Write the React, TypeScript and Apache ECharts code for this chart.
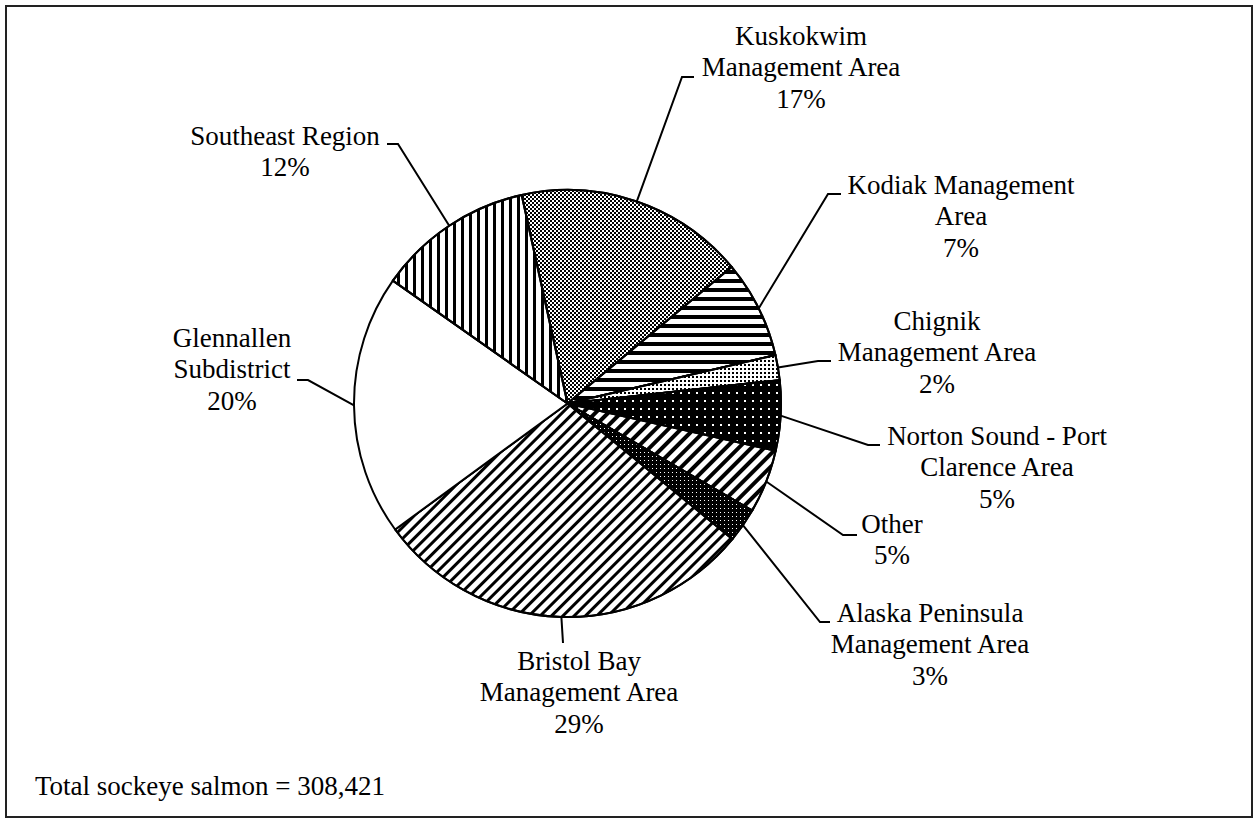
import React, { useEffect, useRef } from "react";
import * as echarts from "echarts";

// ---- data ----
const categories = [
  "Kuskokwim Management Area",
  "Kodiak Management Area",
  "Chignik Management Area",
  "Norton Sound - Port Clarence Area",
  "Other",
  "Alaska Peninsula Management Area",
  "Bristol Bay Management Area",
  "Glennallen Subdistrict",
  "Southeast Region",
];
const labelText = [
  "Kuskokwim\nManagement Area",
  "Kodiak Management\nArea",
  "Chignik\nManagement Area",
  "Norton Sound - Port\nClarence Area",
  "Other",
  "Alaska Peninsula\nManagement Area",
  "Bristol Bay\nManagement Area",
  "Glennallen\nSubdistrict",
  "Southeast Region",
];
const values = [53665, 22823, 5860, 16346, 14804, 8019, 89442, 61067, 36395];
const totalPrefix = "Total sockeye salmon = ";

// ---- layout (label block centre / top, leader elbow and end) ----
const labelLayoutPos = [
  { cx: 801, top: 20, ex: 682, ey: 77, hx: 694 },
  { cx: 961, top: 169, ex: 828, ey: 194, hx: 841 },
  { cx: 937, top: 305, ex: 818, ey: 361, hx: 831 },
  { cx: 997, top: 420, ex: 868, ey: 445, hx: 880 },
  { cx: 892, top: 508, ex: 843, ey: 535, hx: 857 },
  { cx: 930, top: 597, ex: 820, ey: 622, hx: 830 },
  { cx: 579, top: 645, ex: 563, ey: 643, hx: 563 },
  { cx: 232, top: 322, ex: 308, ey: 380, hx: 297 },
  { cx: 285, top: 120, ex: 398, ey: 144, hx: 387 },
];

const FONT = "'Times New Roman', 'Liberation Serif', serif";

const decals: any[] = [
  // Kuskokwim: fine checker mesh
  { symbol: "rect", symbolSize: 1, color: "#000", dashArrayX: [[2, 2], [0, 2, 2, 0]], dashArrayY: [2, 0] },
  // Kodiak: horizontal stripes
  { symbol: "rect", symbolSize: 1, color: "#000", dashArrayX: [1, 0], dashArrayY: [4, 5], rotation: 0 },
  // Chignik: small dots
  { symbol: "rect", symbolSize: 1, color: "#000", dashArrayX: [2, 2], dashArrayY: [2, 2] },
  // Norton: white dots on black
  { symbol: "rect", symbolSize: 1, color: "#fff", dashArrayX: [2, 6], dashArrayY: [2, 6] },
  // Other: wide diagonal stripes
  { symbol: "rect", symbolSize: 1, color: "#000", dashArrayX: [1, 0], dashArrayY: [4, 5], rotation: -Math.PI / 4 },
  // Alaska: fine white dots on black
  { symbol: "rect", symbolSize: 1, color: "#fff", dashArrayX: [1, 3], dashArrayY: [1, 3] },
  // Bristol: narrow diagonal stripes
  { symbol: "rect", symbolSize: 1, color: "#000", dashArrayX: [1, 0], dashArrayY: [3, 5], rotation: -Math.PI / 4 },
  null,
  // Southeast: vertical stripes
  { symbol: "rect", symbolSize: 1, color: "#000", dashArrayX: [1, 0], dashArrayY: [3, 5], rotation: Math.PI / 2 },
];
const baseColors = ["#fff", "#fff", "#fff", "#000", "#fff", "#000", "#fff", "#fff", "#fff"];

export default function App() {
  const ref = useRef<HTMLDivElement>(null);
  useEffect(() => {
    if (!ref.current) return;
    const chart = echarts.init(ref.current, null, { renderer: "svg" });
    const total = values.reduce((a, b) => a + b, 0);
    const cx = 567.5;
    const cy = 403.5;
    const r = 213.5;
    const startAngle = 102.4;

    const data = categories.map((name, i) => {
      const item: any = {
        name,
        value: values[i],
        itemStyle: { color: baseColors[i] },
      };
      if (decals[i]) item.itemStyle.decal = decals[i];
      return item;
    });

    chart.setOption({
      animation: false,
      backgroundColor: "#fff",
      title: {
        text: totalPrefix + total.toLocaleString("en-US"),
        left: 35,
        top: 772,
        padding: 0,
        textStyle: { fontFamily: FONT, fontSize: 27, fontWeight: "normal", color: "#000" },
      },
      graphic: [
        {
          type: "rect",
          shape: { x: 6, y: 6, width: 1246, height: 811 },
          style: { fill: "none", stroke: "#222", lineWidth: 2 },
          silent: true,
        },
      ],
      series: [
        {
          type: "pie",
          center: [cx, cy],
          radius: r,
          startAngle,
          clockwise: true,
          avoidLabelOverlap: false,
          itemStyle: { borderColor: "#000", borderWidth: 2 },
          label: {
            show: true,
            position: "outside",
            fontFamily: FONT,
            fontSize: 27,
            lineHeight: 31.5,
            color: "#000",
            align: "center",
            formatter: (p: any) => labelText[p.dataIndex] + "\n" + Math.round(p.percent) + "%",
          },
          labelLine: {
            show: true,
            length: 10,
            length2: 10,
            smooth: false,
            lineStyle: { color: "#000", width: 2 },
          },
          labelLayout: (params: any) => {
            const i = params.dataIndex;
            const L = labelLayoutPos[i];
            let p0 = params.labelLinePoints && params.labelLinePoints[0];
            if (!p0) {
              let before = 0;
              for (let k = 0; k < i; k++) before += values[k];
              const midDeg = ((before + values[i] / 2) / total) * 360 + (90 - startAngle);
              const a = (midDeg * Math.PI) / 180;
              p0 = [cx + r * Math.sin(a), cy - r * Math.cos(a)];
            }
            return {
              x: L.cx,
              y: L.top,
              align: "center",
              verticalAlign: "top",
              labelLinePoints: [
                [p0[0], p0[1]],
                [L.ex, L.ey],
                [L.hx, L.ey],
              ],
            };
          },
          data,
        },
      ],
    });
    return () => chart.dispose();
  }, []);
  return (
    <div
      ref={ref}
      style={{ position: "absolute", left: 0, top: 0, width: 1254, height: 820, background: "#fff" }}
    />
  );
}
